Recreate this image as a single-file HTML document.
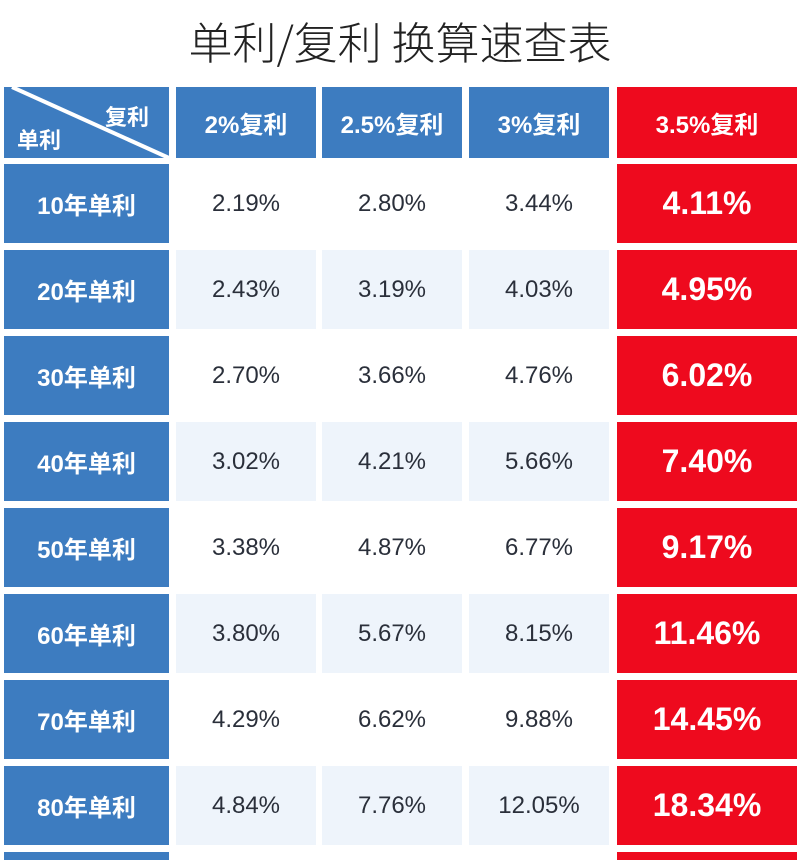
<!DOCTYPE html>
<html style="overflow:hidden;height:860px"><head><meta charset="utf-8"><style>
body{margin:0;width:800px;height:860px;background:#fff;position:relative;overflow:hidden;font-family:"Liberation Sans","Noto Sans CJK SC",sans-serif;}
.t{position:absolute;left:0;width:800px;top:12px;text-align:center;font-size:44px;color:#222;font-family:"Noto Sans CJK SC",sans-serif;font-weight:300;line-height:56px;}
.c{position:absolute;display:flex;align-items:center;justify-content:center;}
.b{background:#3d7cc0;color:#fff;font-size:24px;font-weight:bold;}
.r{background:#ee0a1e;color:#fff;font-size:32px;font-weight:bold;}
.v{color:#2a2f3a;font-size:24px;}
.l{background:#eef4fb;}
</style></head><body>
<div class="t">单利/复利 换算速查表</div>
<div class="c b" style="left:4px;top:87px;width:165px;height:71px;"></div>
<svg style="position:absolute;left:4px;top:87px" width="165" height="71"><line x1="8" y1="0" x2="165" y2="71" stroke="#fff" stroke-width="4"/></svg>
<div style="position:absolute;left:105px;top:100px;color:#fff;font-size:22px;font-weight:bold">复利</div>
<div style="position:absolute;left:17px;top:123px;color:#fff;font-size:22px;font-weight:bold">单利</div>
<div class="c b" style="left:176px;top:87px;width:140px;height:71px">2%复利</div>
<div class="c b" style="left:322px;top:87px;width:140px;height:71px">2.5%复利</div>
<div class="c b" style="left:469px;top:87px;width:140px;height:71px">3%复利</div>
<div class="c r" style="left:617px;top:87px;width:180px;height:71px;font-size:24px">3.5%复利</div>
<div id="rows"></div>
<script>
var d=[["10",["2.19%","2.80%","3.44%","4.11%"]],["20",["2.43%","3.19%","4.03%","4.95%"]],["30",["2.70%","3.66%","4.76%","6.02%"]],["40",["3.02%","4.21%","5.66%","7.40%"]],["50",["3.38%","4.87%","6.77%","9.17%"]],["60",["3.80%","5.67%","8.15%","11.46%"]],["70",["4.29%","6.62%","9.88%","14.45%"]],["80",["4.84%","7.76%","12.05%","18.34%"]]];
var h="",xs=[176,322,469];
d.forEach(function(r,i){var y=164+86*i,l=i%2?" l":"";
h+='<div class="c b" style="left:4px;top:'+y+'px;width:165px;height:79px">'+r[0]+'年单利</div>';
for(var j=0;j<3;j++)h+='<div class="c v'+l+'" style="left:'+xs[j]+'px;top:'+y+'px;width:140px;height:79px">'+r[1][j]+'</div>';
h+='<div class="c r" style="left:617px;top:'+y+'px;width:180px;height:79px">'+r[1][3]+'</div>';});
h+='<div class="c b" style="left:4px;top:852px;width:165px;height:8px"></div><div class="c r" style="left:617px;top:852px;width:180px;height:8px"></div>';
document.getElementById("rows").innerHTML=h;
</script>
</body></html>
